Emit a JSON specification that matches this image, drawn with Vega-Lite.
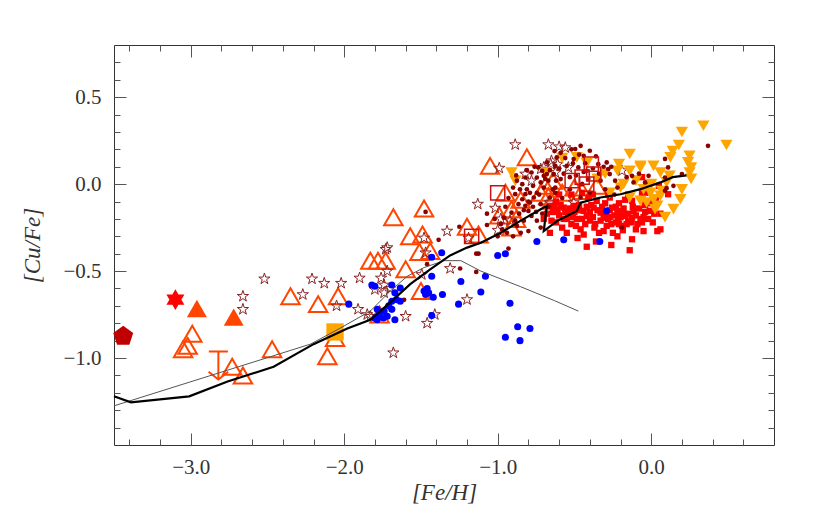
{
  "$schema": "https://vega.github.io/schema/vega-lite/v6.json",
  "width": 660,
  "height": 400,
  "autosize": {"type": "none"},
  "padding": {"left": 114, "top": 45, "right": 43, "bottom": 85},
  "background": "white",
  "config": {
    "view": {"stroke": "#333", "strokeWidth": 1},
    "axis": {"grid": false, "domain": false, "tickColor": "#555", "tickWidth": 1, "labelFont": "Liberation Serif", "labelFontSize": 21, "labelColor": "#333", "titleFont": "Liberation Serif", "titleFontStyle": "italic", "titleFontWeight": "normal", "titleFontSize": 23, "titleColor": "#333"}
  },
  "datasets": {
    "otri": [
      {"x": -2.99, "y": -0.86}, {"x": -3.02, "y": -0.93}, {"x": -3.05, "y": -0.95}, {"x": -2.73, "y": -1.05}, {"x": -2.66, "y": -1.1},
      {"x": -2.47, "y": -0.95}, {"x": -2.35, "y": -0.645}, {"x": -2.17, "y": -0.69}, {"x": -2.04, "y": -0.645}, {"x": -2.11, "y": -0.99},
      {"x": -2.06, "y": -0.885}, {"x": -1.83, "y": -0.44}, {"x": -1.78, "y": -0.44}, {"x": -1.73, "y": -0.44}, {"x": -1.6, "y": -0.49},
      {"x": -1.68, "y": -0.19}, {"x": -1.57, "y": -0.3}, {"x": -1.49, "y": -0.29}, {"x": -1.51, "y": -0.39}, {"x": -1.44, "y": -0.385},
      {"x": -1.48, "y": -0.14}, {"x": -1.5, "y": -0.615}, {"x": -1.77, "y": -0.75}, {"x": -1.2, "y": -0.245}, {"x": -1.05, "y": 0.105},
      {"x": -0.81, "y": 0.155}, {"x": -0.95, "y": -0.05}, {"x": -0.85, "y": -0.09}, {"x": -0.91, "y": -0.145}, {"x": -1.125, "y": -0.29},
      {"x": -0.91, "y": -0.25}, {"x": -0.69, "y": -0.01}, {"x": -0.65, "y": -0.096}, {"x": -0.64, "y": 0.02}, {"x": -0.5, "y": -0.02},
      {"x": -0.355, "y": -0.01}, {"x": -0.67, "y": -0.07}, {"x": -0.88, "y": -0.2}, {"x": -0.72, "y": -0.05}, {"x": -0.58, "y": -0.05},
      {"x": -0.45, "y": -0.04}, {"x": -0.99, "y": -0.18}
    ],
    "stars": [
      {"x": -2.52, "y": -0.545}, {"x": -2.66, "y": -0.645}, {"x": -2.66, "y": -0.72}, {"x": -2.21, "y": -0.545}, {"x": -2.27, "y": -0.635},
      {"x": -2.13, "y": -0.57}, {"x": -2.02, "y": -0.57}, {"x": -2.05, "y": -0.7}, {"x": -1.9, "y": -0.54}, {"x": -1.72, "y": -0.365},
      {"x": -1.72, "y": -0.5}, {"x": -1.76, "y": -0.54}, {"x": -1.74, "y": -0.58}, {"x": -1.7, "y": -0.6}, {"x": -1.91, "y": -0.72},
      {"x": -1.83, "y": -0.76}, {"x": -1.6, "y": -0.76}, {"x": -1.46, "y": -0.8}, {"x": -1.41, "y": -0.75}, {"x": -1.68, "y": -0.97},
      {"x": -1.33, "y": -0.27}, {"x": -1.31, "y": -0.485}, {"x": -1.2, "y": -0.664}, {"x": -1.13, "y": -0.115}, {"x": -1.48, "y": -0.31},
      {"x": -1.47, "y": -0.395}, {"x": -1.8, "y": -0.606}, {"x": -1.85, "y": -0.75}, {"x": -1.495, "y": -0.52}, {"x": -1.74, "y": -0.625},
      {"x": -1.73, "y": -0.375}, {"x": -1.19, "y": -0.31}, {"x": -0.886, "y": 0.227}, {"x": -0.67, "y": 0.227}, {"x": -0.99, "y": 0.092},
      {"x": -1.016, "y": -0.138}, {"x": -0.98, "y": -0.2}, {"x": -1.0, "y": -0.265}, {"x": -0.92, "y": -0.21}, {"x": -0.82, "y": 0.058},
      {"x": -0.78, "y": 0.019}, {"x": -0.6, "y": 0.215}, {"x": -0.655, "y": 0.115}, {"x": -0.72, "y": 0.087}, {"x": -0.56, "y": 0.21},
      {"x": -0.65, "y": 0.134}, {"x": -0.61, "y": 0.115}, {"x": -0.7, "y": 0.096}, {"x": -0.54, "y": 0.096}, {"x": -0.625, "y": 0.067},
      {"x": -0.66, "y": -0.106}, {"x": -0.505, "y": -0.106}, {"x": -0.19, "y": 0.077}
    ],
    "rsq": [
      {"x": -0.7, "y": -0.2}, {"x": -0.66, "y": -0.125}, {"x": -0.64, "y": -0.16}, {"x": -0.62, "y": -0.1}, {"x": -0.6, "y": -0.18},
      {"x": -0.57, "y": -0.135}, {"x": -0.55, "y": -0.2}, {"x": -0.54, "y": -0.173}, {"x": -0.52, "y": -0.23}, {"x": -0.505, "y": -0.125},
      {"x": -0.485, "y": -0.2}, {"x": -0.47, "y": -0.15}, {"x": -0.46, "y": -0.26}, {"x": -0.44, "y": -0.154}, {"x": -0.42, "y": -0.183},
      {"x": -0.41, "y": -0.077}, {"x": -0.4, "y": -0.21}, {"x": -0.39, "y": -0.12}, {"x": -0.375, "y": -0.135}, {"x": -0.365, "y": -0.23},
      {"x": -0.355, "y": -0.096}, {"x": -0.34, "y": -0.28}, {"x": -0.33, "y": -0.164}, {"x": -0.31, "y": -0.193}, {"x": -0.3, "y": -0.11},
      {"x": -0.29, "y": -0.24}, {"x": -0.28, "y": -0.06}, {"x": -0.27, "y": -0.19}, {"x": -0.27, "y": -0.077}, {"x": -0.255, "y": -0.135},
      {"x": -0.25, "y": -0.28}, {"x": -0.23, "y": -0.22}, {"x": -0.22, "y": -0.164}, {"x": -0.215, "y": -0.2}, {"x": -0.21, "y": -0.11},
      {"x": -0.19, "y": -0.24}, {"x": -0.185, "y": -0.265}, {"x": -0.19, "y": -0.154}, {"x": -0.17, "y": -0.183}, {"x": -0.17, "y": -0.09},
      {"x": -0.15, "y": -0.21}, {"x": -0.14, "y": -0.38}, {"x": -0.125, "y": -0.193}, {"x": -0.125, "y": -0.317}, {"x": -0.125, "y": -0.096},
      {"x": -0.115, "y": -0.154}, {"x": -0.1, "y": -0.26}, {"x": -0.09, "y": -0.23}, {"x": -0.07, "y": -0.2}, {"x": -0.06, "y": -0.05},
      {"x": -0.05, "y": -0.19}, {"x": -0.04, "y": -0.12}, {"x": -0.03, "y": -0.05}, {"x": -0.01, "y": -0.154}, {"x": 0.01, "y": -0.22},
      {"x": 0.04, "y": -0.27}, {"x": 0.05, "y": -0.01}, {"x": 0.06, "y": -0.17}, {"x": 0.11, "y": -0.058}, {"x": -0.06, "y": 0.04},
      {"x": -0.017, "y": 0.01}, {"x": -0.58, "y": -0.25}, {"x": -0.62, "y": -0.22}, {"x": -0.48, "y": -0.31}, {"x": -0.36, "y": -0.33},
      {"x": -0.26, "y": -0.35}, {"x": -0.45, "y": -0.05}, {"x": -0.6, "y": -0.06}, {"x": -0.52, "y": -0.06}, {"x": 0.06, "y": -0.26},
      {"x": -0.68, "y": -0.17}, {"x": -0.65, "y": -0.21}, {"x": -0.63, "y": -0.13}, {"x": -0.61, "y": -0.15}, {"x": -0.59, "y": -0.12},
      {"x": -0.57, "y": -0.2}, {"x": -0.56, "y": -0.16}, {"x": -0.53, "y": -0.14}, {"x": -0.51, "y": -0.19}, {"x": -0.5, "y": -0.16},
      {"x": -0.49, "y": -0.24}, {"x": -0.47, "y": -0.12}, {"x": -0.45, "y": -0.2}, {"x": -0.43, "y": -0.23}, {"x": -0.42, "y": -0.13},
      {"x": -0.4, "y": -0.16}, {"x": -0.38, "y": -0.19}, {"x": -0.37, "y": -0.25}, {"x": -0.35, "y": -0.15}, {"x": -0.33, "y": -0.21},
      {"x": -0.32, "y": -0.13}, {"x": -0.3, "y": -0.17}, {"x": -0.28, "y": -0.2}, {"x": -0.27, "y": -0.15}, {"x": -0.26, "y": -0.23},
      {"x": -0.24, "y": -0.18}, {"x": -0.23, "y": -0.13}, {"x": -0.21, "y": -0.23}, {"x": -0.2, "y": -0.19}, {"x": -0.18, "y": -0.14},
      {"x": -0.16, "y": -0.23}, {"x": -0.15, "y": -0.17}, {"x": -0.13, "y": -0.22}, {"x": -0.12, "y": -0.13}, {"x": -0.1, "y": -0.18},
      {"x": -0.08, "y": -0.14}, {"x": -0.06, "y": -0.22}, {"x": -0.04, "y": -0.16}, {"x": -0.02, "y": -0.2}, {"x": 0.0, "y": -0.11},
      {"x": 0.02, "y": -0.17}, {"x": 0.03, "y": -0.08}, {"x": -0.44, "y": -0.29}, {"x": -0.31, "y": -0.27}, {"x": -0.55, "y": -0.28},
      {"x": -0.66, "y": -0.28}, {"x": -0.22, "y": -0.3}, {"x": -0.05, "y": -0.27}, {"x": -0.38, "y": -0.06}, {"x": -0.15, "y": -0.06},
      {"x": -0.42, "y": -0.36}
    ],
    "otr": [
      {"x": 0.34, "y": 0.336}, {"x": 0.2, "y": 0.3}, {"x": 0.49, "y": 0.225}, {"x": 0.18, "y": 0.225}, {"x": 0.14, "y": 0.19},
      {"x": 0.125, "y": 0.154}, {"x": 0.25, "y": 0.163}, {"x": 0.24, "y": 0.125}, {"x": 0.26, "y": 0.096}, {"x": 0.26, "y": 0.03},
      {"x": 0.25, "y": 0.067}, {"x": 0.12, "y": 0.048}, {"x": 0.015, "y": 0.105}, {"x": 0.06, "y": 0.067}, {"x": -0.07, "y": 0.105},
      {"x": 0.19, "y": -0.087}, {"x": 0.145, "y": -0.144}, {"x": 0.09, "y": -0.19}, {"x": 0.04, "y": -0.125}, {"x": 0.06, "y": -0.067},
      {"x": -0.005, "y": -0.05}, {"x": -0.03, "y": -0.106}, {"x": -0.14, "y": 0.173}, {"x": -0.21, "y": 0.115}, {"x": -0.07, "y": 0.096},
      {"x": -0.22, "y": 0.077}, {"x": -0.14, "y": 0.077}, {"x": -0.485, "y": 0.154}, {"x": -0.18, "y": 0.0}, {"x": -0.05, "y": -0.03},
      {"x": 0.015, "y": -0.087}, {"x": -0.07, "y": -0.096}, {"x": 0.025, "y": -0.144}, {"x": -0.27, "y": -0.05}, {"x": -0.14, "y": -0.077},
      {"x": -0.91, "y": 0.067}, {"x": -0.885, "y": 0.019}, {"x": -0.68, "y": 0.067}, {"x": -0.1, "y": 0.02}, {"x": 0.0, "y": 0.0},
      {"x": -0.2, "y": -0.02}, {"x": -0.35, "y": 0.03}, {"x": -0.3, "y": 0.06}, {"x": 0.1, "y": 0.01}, {"x": 0.2, "y": -0.03},
      {"x": 0.07, "y": -0.04}, {"x": -0.58, "y": 0.15}, {"x": -0.42, "y": 0.12}
    ],
    "dots": [
      {"x": -1.47, "y": -0.16}, {"x": -1.385, "y": -0.32}, {"x": -1.25, "y": -0.245}, {"x": -1.07, "y": -0.235}, {"x": -1.125, "y": -0.4},
      {"x": -1.61, "y": -0.665}, {"x": -1.46, "y": -0.46}, {"x": -1.245, "y": -0.485}, {"x": -1.14, "y": -0.505}, {"x": -1.14, "y": -0.4},
      {"x": -1.07, "y": -0.17}, {"x": -0.93, "y": -0.37}, {"x": -1.0, "y": -0.3}, {"x": -0.97, "y": -0.26}, {"x": -0.94, "y": -0.28},
      {"x": -0.83, "y": -0.21}, {"x": -0.875, "y": 0.02}, {"x": -0.84, "y": 0.0}, {"x": -0.81, "y": -0.03}, {"x": -0.79, "y": -0.05},
      {"x": -0.765, "y": -0.077}, {"x": -0.84, "y": -0.087}, {"x": -0.865, "y": -0.115}, {"x": -0.82, "y": -0.125}, {"x": -0.79, "y": -0.106},
      {"x": -0.745, "y": 0.038}, {"x": -0.72, "y": 0.01}, {"x": -0.7, "y": -0.02}, {"x": -0.735, "y": 0.096}, {"x": -0.68, "y": 0.125},
      {"x": -0.625, "y": 0.105}, {"x": -0.615, "y": 0.154}, {"x": -0.635, "y": 0.058}, {"x": -0.72, "y": -0.115}, {"x": -0.745, "y": -0.21},
      {"x": -0.78, "y": -0.183}, {"x": -0.8, "y": -0.154}, {"x": -0.91, "y": -0.164}, {"x": -0.886, "y": -0.21}, {"x": -0.875, "y": -0.24},
      {"x": -0.8, "y": -0.27}, {"x": -0.96, "y": -0.193}, {"x": -0.82, "y": 0.038}, {"x": -0.78, "y": 0.067}, {"x": -0.7, "y": 0.048},
      {"x": -0.67, "y": 0.02}, {"x": -0.66, "y": -0.077}, {"x": -0.625, "y": -0.05}, {"x": -0.77, "y": -0.01}, {"x": -0.745, "y": -0.05},
      {"x": -0.855, "y": -0.03}, {"x": -0.886, "y": -0.058}, {"x": -0.82, "y": -0.058}, {"x": -0.46, "y": 0.22}, {"x": -0.59, "y": 0.18},
      {"x": -0.505, "y": 0.144}, {"x": -0.44, "y": 0.163}, {"x": -0.55, "y": 0.105}, {"x": -0.475, "y": 0.096}, {"x": -0.42, "y": 0.077},
      {"x": -0.345, "y": 0.115}, {"x": -0.29, "y": 0.125}, {"x": -0.28, "y": 0.087}, {"x": -0.33, "y": 0.02}, {"x": -0.235, "y": 0.02},
      {"x": -0.125, "y": 0.048}, {"x": -0.115, "y": 0.01}, {"x": -0.22, "y": -0.02}, {"x": -0.45, "y": 0.0}, {"x": -0.59, "y": 0.029},
      {"x": -0.68, "y": 0.058}, {"x": -0.625, "y": -0.02}, {"x": -0.53, "y": -0.03}, {"x": -0.4, "y": -0.05}, {"x": -0.19, "y": -0.25},
      {"x": -0.71, "y": 0.077}, {"x": -0.46, "y": -0.077}, {"x": -0.27, "y": 0.058}, {"x": -0.4, "y": 0.192}, {"x": -0.495, "y": 0.202},
      {"x": 0.37, "y": 0.22}, {"x": 0.09, "y": 0.145}, {"x": 0.11, "y": 0.096}, {"x": 0.09, "y": 0.038}, {"x": 0.2, "y": 0.058},
      {"x": 0.145, "y": -0.01}, {"x": 0.1, "y": -0.023}, {"x": 0.09, "y": -0.038}, {"x": -0.017, "y": 0.048}, {"x": -0.04, "y": 0.01},
      {"x": -0.93, "y": -0.08}, {"x": -0.9, "y": -0.02}, {"x": -0.88, "y": 0.05}, {"x": -0.86, "y": -0.17}, {"x": -0.83, "y": -0.15},
      {"x": -0.81, "y": 0.08}, {"x": -0.8, "y": -0.1}, {"x": -0.77, "y": -0.13}, {"x": -0.76, "y": 0.1}, {"x": -0.75, "y": -0.16},
      {"x": -0.73, "y": -0.06}, {"x": -0.71, "y": -0.17}, {"x": -0.69, "y": 0.03}, {"x": -0.67, "y": -0.13}, {"x": -0.66, "y": 0.08},
      {"x": -0.64, "y": -0.03}, {"x": -0.62, "y": 0.02}, {"x": -0.6, "y": 0.09}, {"x": -0.58, "y": -0.08}, {"x": -0.57, "y": 0.06},
      {"x": -0.56, "y": 0.15}, {"x": -0.53, "y": 0.04}, {"x": -0.51, "y": 0.12}, {"x": -0.49, "y": 0.05}, {"x": -0.47, "y": 0.17},
      {"x": -0.44, "y": 0.07}, {"x": -0.43, "y": 0.12}, {"x": -0.41, "y": 0.03}, {"x": -0.38, "y": 0.09}, {"x": -0.36, "y": 0.16},
      {"x": -0.34, "y": 0.06}, {"x": -0.31, "y": 0.1}, {"x": -0.3, "y": -0.03}, {"x": -0.26, "y": 0.1}, {"x": -0.24, "y": -0.06},
      {"x": -0.16, "y": 0.04}, {"x": -0.08, "y": 0.06}, {"x": -0.95, "y": -0.13}, {"x": -0.98, "y": -0.23}, {"x": -1.02, "y": -0.2},
      {"x": -0.9, "y": -0.3}, {"x": -0.85, "y": -0.28}, {"x": -0.72, "y": -0.25}, {"x": -0.63, "y": 0.19}, {"x": -0.52, "y": 0.2}
    ],
    "osq": [
      {"x": -1.0, "y": -0.05}, {"x": -1.17, "y": -0.3}, {"x": -0.39, "y": 0.115}, {"x": -0.375, "y": 0.058}, {"x": -0.515, "y": 0.02},
      {"x": -0.45, "y": 0.04}, {"x": -0.42, "y": 0.0}
    ],
    "blue": [
      {"x": -1.97, "y": -0.69}, {"x": -1.82, "y": -0.58}, {"x": -1.8, "y": -0.587}, {"x": -1.69, "y": -0.58}, {"x": -1.635, "y": -0.597},
      {"x": -1.67, "y": -0.625}, {"x": -1.66, "y": -0.664}, {"x": -1.69, "y": -0.673}, {"x": -1.635, "y": -0.673}, {"x": -1.71, "y": -0.7},
      {"x": -1.785, "y": -0.72}, {"x": -1.74, "y": -0.73}, {"x": -1.69, "y": -0.72}, {"x": -1.77, "y": -0.75}, {"x": -1.8, "y": -0.77},
      {"x": -1.745, "y": -0.77}, {"x": -1.72, "y": -0.76}, {"x": -1.67, "y": -0.78}, {"x": -1.785, "y": -0.78}, {"x": -1.43, "y": -0.42},
      {"x": -1.43, "y": -0.53}, {"x": -1.46, "y": -0.6}, {"x": -1.48, "y": -0.615}, {"x": -1.45, "y": -0.625}, {"x": -1.47, "y": -0.635},
      {"x": -1.42, "y": -0.65}, {"x": -1.36, "y": -0.635}, {"x": -1.43, "y": -0.755}, {"x": -1.365, "y": -0.395}, {"x": -1.24, "y": -0.56},
      {"x": -1.255, "y": -0.69}, {"x": -1.0, "y": -0.41}, {"x": -0.95, "y": -0.4}, {"x": -0.745, "y": -0.33}, {"x": -0.57, "y": -0.32},
      {"x": -0.335, "y": -0.33}, {"x": -0.29, "y": -0.154}, {"x": -1.08, "y": -0.53}, {"x": -1.11, "y": -0.62}, {"x": -0.92, "y": -0.685},
      {"x": -0.95, "y": -0.88}, {"x": -0.87, "y": -0.82}, {"x": -0.855, "y": -0.9}, {"x": -0.79, "y": -0.83}
    ],
    "thick": [
      {"i": 1, "x": -3.5, "y": -1.22}, {"i": 2, "x": -3.39, "y": -1.255}, {"i": 3, "x": -3.01, "y": -1.22}, {"i": 4, "x": -2.76, "y": -1.135},
      {"i": 5, "x": -2.46, "y": -1.05}, {"i": 6, "x": -2.2, "y": -0.92}, {"i": 7, "x": -1.98, "y": -0.83}, {"i": 8, "x": -1.83, "y": -0.78},
      {"i": 9, "x": -1.7, "y": -0.68}, {"i": 10, "x": -1.57, "y": -0.575}, {"i": 11, "x": -1.44, "y": -0.49}, {"i": 12, "x": -1.31, "y": -0.41},
      {"i": 13, "x": -1.2, "y": -0.365}, {"i": 14, "x": -1.11, "y": -0.337}, {"i": 15, "x": -0.98, "y": -0.28}, {"i": 16, "x": -0.85, "y": -0.21},
      {"i": 17, "x": -0.72, "y": -0.144}, {"i": 18, "x": -0.68, "y": -0.125}, {"i": 19, "x": -0.7, "y": -0.27}, {"i": 20, "x": -0.61, "y": -0.21},
      {"i": 21, "x": -0.485, "y": -0.154}, {"i": 22, "x": -0.46, "y": -0.106}, {"i": 23, "x": -0.33, "y": -0.077}, {"i": 24, "x": -0.2, "y": -0.058},
      {"i": 25, "x": -0.07, "y": -0.029}, {"i": 26, "x": 0.06, "y": 0.01}, {"i": 27, "x": 0.14, "y": 0.04}, {"i": 28, "x": 0.23, "y": 0.05}
    ],
    "thin": [
      {"i": 1, "x": -3.5, "y": -1.275}, {"i": 2, "x": -2.22, "y": -0.92}, {"i": 3, "x": -2.03, "y": -0.83}, {"i": 4, "x": -1.83, "y": -0.73},
      {"i": 5, "x": -1.7, "y": -0.615}, {"i": 6, "x": -1.59, "y": -0.53}, {"i": 7, "x": -1.48, "y": -0.48}, {"i": 8, "x": -1.35, "y": -0.44},
      {"i": 9, "x": -1.24, "y": -0.44}, {"i": 10, "x": -1.11, "y": -0.5}, {"i": 11, "x": -0.85, "y": -0.59}, {"i": 12, "x": -0.63, "y": -0.67},
      {"i": 13, "x": -0.475, "y": -0.73}
    ]
  },
  "layer": [
    {
      "mark": {"type": "rule", "color": "#888", "strokeDash": [2, 4], "strokeWidth": 1.5},
      "encoding": {"y": {"datum": 0, "type": "quantitative", "scale": {"domain": [-1.5, 0.8], "nice": false, "zero": false}, "axis": null}}
    },
    {
      "mark": {"type": "rule", "color": "#888", "strokeDash": [2, 4], "strokeWidth": 1.5},
      "encoding": {"x": {"datum": 0, "type": "quantitative", "scale": {"domain": [-3.5, 0.8], "nice": false, "zero": false}, "axis": null}}
    },
    {
      "data": {"name": "otri"},
      "mark": {"type": "point", "shape": "triangle-up", "filled": false, "stroke": "#FF4500", "strokeWidth": 2, "size": 340, "opacity": 1},
      "encoding": {
        "x": {"field": "x", "type": "quantitative", "scale": {"domain": [-3.5, 0.8], "nice": false, "zero": false},
          "axis": {"orient": "bottom", "values": [-3, -2, -1, 0], "format": ".1f", "tickSize": -12, "labelPadding": 23, "title": "[Fe/H]", "titleX": 330, "titleY": 47, "titleBaseline": "middle", "titleAnchor": null}},
        "y": {"field": "y", "type": "quantitative", "scale": {"domain": [-1.5, 0.8], "nice": false, "zero": false},
          "axis": {"orient": "left", "values": [-1, -0.5, 0, 0.5], "format": ".1f", "tickSize": -12, "labelPadding": 25, "title": "[Cu/Fe]", "titleX": -82, "titleY": 200, "titleAngle": 270, "titleAlign": "center", "titleBaseline": "middle"}}
      }
    },
    {
      "data": {"name": "stars"},
      "mark": {"type": "point", "shape": "M0,-1L0.225,-0.309L0.951,-0.309L0.363,0.118L0.588,0.809L0,0.382L-0.588,0.809L-0.363,0.118L-0.951,-0.309L-0.225,-0.309Z", "filled": false, "stroke": "#8B2323", "strokeWidth": 1, "size": 140, "opacity": 1},
      "encoding": {
        "x": {"field": "x", "type": "quantitative", "scale": {"domain": [-3.5, 0.8], "nice": false, "zero": false},
          "axis": {"orient": "bottom", "values": [-3.4, -3.2, -2.8, -2.6, -2.4, -2.2, -1.8, -1.6, -1.4, -1.2, -0.8, -0.6, -0.4, -0.2, 0.2, 0.4, 0.6], "tickSize": -6, "labels": false, "title": null}},
        "y": {"field": "y", "type": "quantitative", "scale": {"domain": [-1.5, 0.8], "nice": false, "zero": false},
          "axis": {"orient": "left", "values": [-1.4, -1.3, -1.2, -1.1, -0.9, -0.8, -0.7, -0.6, -0.4, -0.3, -0.2, -0.1, 0.1, 0.2, 0.3, 0.4, 0.6, 0.7], "tickSize": -6, "labels": false, "title": null}}
      }
    },
    {
      "data": {"name": "rsq"},
      "mark": {"type": "point", "shape": "square", "filled": true, "color": "#FF0000", "size": 40, "opacity": 1},
      "encoding": {
        "x": {"field": "x", "type": "quantitative", "scale": {"domain": [-3.5, 0.8], "nice": false, "zero": false},
          "axis": {"orient": "top", "values": [-3, -2, -1, 0], "tickSize": -12, "labels": false, "title": null}},
        "y": {"field": "y", "type": "quantitative", "scale": {"domain": [-1.5, 0.8], "nice": false, "zero": false},
          "axis": {"orient": "right", "values": [-1, -0.5, 0, 0.5], "tickSize": -12, "labels": false, "title": null}}
      }
    },
    {
      "data": {"name": "otr"},
      "mark": {"type": "point", "shape": "triangle-down", "filled": true, "color": "#FFA500", "size": 150, "opacity": 1},
      "encoding": {
        "x": {"field": "x", "type": "quantitative", "scale": {"domain": [-3.5, 0.8], "nice": false, "zero": false},
          "axis": {"orient": "top", "values": [-3.4, -3.2, -2.8, -2.6, -2.4, -2.2, -1.8, -1.6, -1.4, -1.2, -0.8, -0.6, -0.4, -0.2, 0.2, 0.4, 0.6], "tickSize": -6, "labels": false, "title": null}},
        "y": {"field": "y", "type": "quantitative", "scale": {"domain": [-1.5, 0.8], "nice": false, "zero": false},
          "axis": {"orient": "right", "values": [-1.4, -1.3, -1.2, -1.1, -0.9, -0.8, -0.7, -0.6, -0.4, -0.3, -0.2, -0.1, 0.1, 0.2, 0.3, 0.4, 0.6, 0.7], "tickSize": -6, "labels": false, "title": null}}
      }
    },
    {
      "data": {"name": "dots"},
      "mark": {"type": "circle", "color": "#8B0000", "size": 22, "opacity": 1},
      "encoding": {
        "x": {"field": "x", "type": "quantitative", "scale": {"domain": [-3.5, 0.8], "nice": false, "zero": false}, "axis": null},
        "y": {"field": "y", "type": "quantitative", "scale": {"domain": [-1.5, 0.8], "nice": false, "zero": false}, "axis": null}
      }
    },
    {
      "data": {"name": "osq"},
      "mark": {"type": "point", "shape": "square", "filled": false, "stroke": "#CC1010", "strokeWidth": 1.5, "size": 200, "opacity": 1},
      "encoding": {
        "x": {"field": "x", "type": "quantitative", "scale": {"domain": [-3.5, 0.8], "nice": false, "zero": false}, "axis": null},
        "y": {"field": "y", "type": "quantitative", "scale": {"domain": [-1.5, 0.8], "nice": false, "zero": false}, "axis": null}
      }
    },
    {
      "data": {"name": "blue"},
      "mark": {"type": "circle", "color": "#0000FF", "size": 50, "opacity": 1},
      "encoding": {
        "x": {"field": "x", "type": "quantitative", "scale": {"domain": [-3.5, 0.8], "nice": false, "zero": false}, "axis": null},
        "y": {"field": "y", "type": "quantitative", "scale": {"domain": [-1.5, 0.8], "nice": false, "zero": false}, "axis": null}
      }
    },
    {
      "data": {"values": [{"x": -3.44, "y": -0.875}]},
      "mark": {"type": "point", "shape": "M0,-1L0.951,-0.309L0.588,0.809L-0.588,0.809L-0.951,-0.309Z", "filled": true, "color": "#C00000", "size": 440, "opacity": 1},
      "encoding": {
        "x": {"field": "x", "type": "quantitative", "scale": {"domain": [-3.5, 0.8], "nice": false, "zero": false}, "axis": null},
        "y": {"field": "y", "type": "quantitative", "scale": {"domain": [-1.5, 0.8], "nice": false, "zero": false}, "axis": null}
      }
    },
    {
      "data": {"values": [{"x": -3.1, "y": -0.664}]},
      "mark": {"type": "point", "shape": "M0,-1L0.866,0.5L-0.866,0.5Z M0,1L-0.866,-0.5L0.866,-0.5Z", "filled": true, "color": "#FF0000", "size": 430, "opacity": 1},
      "encoding": {
        "x": {"field": "x", "type": "quantitative", "scale": {"domain": [-3.5, 0.8], "nice": false, "zero": false}, "axis": null},
        "y": {"field": "y", "type": "quantitative", "scale": {"domain": [-1.5, 0.8], "nice": false, "zero": false}, "axis": null}
      }
    },
    {
      "data": {"values": [{"x": -2.96, "y": -0.715}, {"x": -2.72, "y": -0.765}]},
      "mark": {"type": "point", "shape": "triangle-up", "filled": true, "color": "#FF4500", "size": 400, "opacity": 1},
      "encoding": {
        "x": {"field": "x", "type": "quantitative", "scale": {"domain": [-3.5, 0.8], "nice": false, "zero": false}, "axis": null},
        "y": {"field": "y", "type": "quantitative", "scale": {"domain": [-1.5, 0.8], "nice": false, "zero": false}, "axis": null}
      }
    },
    {
      "data": {"values": [{"x": -2.06, "y": -0.85}]},
      "mark": {"type": "point", "shape": "square", "filled": true, "color": "#FFA500", "size": 300, "opacity": 1},
      "encoding": {
        "x": {"field": "x", "type": "quantitative", "scale": {"domain": [-3.5, 0.8], "nice": false, "zero": false}, "axis": null},
        "y": {"field": "y", "type": "quantitative", "scale": {"domain": [-1.5, 0.8], "nice": false, "zero": false}, "axis": null}
      }
    },
    {
      "data": {"values": [{"x": -2.82, "y": -1.043}]},
      "mark": {"type": "point", "shape": "M-0.68,-1L0.68,-1M0,-1L0,1M-0.7,0.45L0,1L0.7,0.45", "filled": false, "stroke": "#FF4500", "strokeWidth": 2, "size": 784, "opacity": 1},
      "encoding": {
        "x": {"field": "x", "type": "quantitative", "scale": {"domain": [-3.5, 0.8], "nice": false, "zero": false}, "axis": null},
        "y": {"field": "y", "type": "quantitative", "scale": {"domain": [-1.5, 0.8], "nice": false, "zero": false}, "axis": null}
      }
    },
    {
      "data": {"name": "thin"},
      "mark": {"type": "line", "color": "#555", "strokeWidth": 1},
      "encoding": {
        "x": {"field": "x", "type": "quantitative", "scale": {"domain": [-3.5, 0.8], "nice": false, "zero": false}, "axis": null},
        "y": {"field": "y", "type": "quantitative", "scale": {"domain": [-1.5, 0.8], "nice": false, "zero": false}, "axis": null},
        "order": {"field": "i", "type": "quantitative"}
      }
    },
    {
      "data": {"name": "thick"},
      "mark": {"type": "line", "color": "#000", "strokeWidth": 2.2},
      "encoding": {
        "x": {"field": "x", "type": "quantitative", "scale": {"domain": [-3.5, 0.8], "nice": false, "zero": false}, "axis": null},
        "y": {"field": "y", "type": "quantitative", "scale": {"domain": [-1.5, 0.8], "nice": false, "zero": false}, "axis": null},
        "order": {"field": "i", "type": "quantitative"}
      }
    }
  ],
  "resolve": {"axis": {"x": "independent", "y": "independent"}}
}
